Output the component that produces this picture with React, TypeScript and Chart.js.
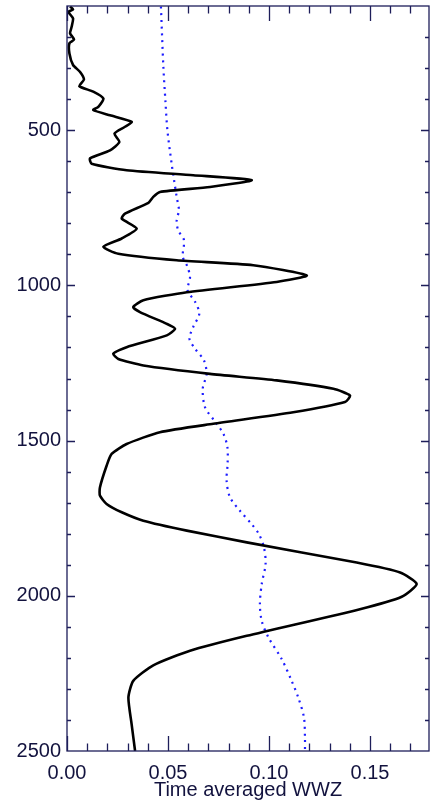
import React, { useEffect, useRef } from "react";
import { Chart, registerables } from "chart.js";

Chart.register(...registerables);

// Solid black series: depth and time averaged WWZ
const blackDepth = [
  102, 111, 119, 140, 167, 188, 208, 220, 253, 290, 312, 337, 358, 376, 398, 425, 435, 452, 473, 489,
  511, 538, 565, 591, 608, 629, 645, 661, 683, 699, 715, 734, 769, 785, 817, 849, 876, 898, 919, 935,
  968, 989, 1022, 1048, 1070, 1086, 1124, 1140, 1161, 1199, 1220, 1237, 1258, 1285, 1306, 1333, 1355,
  1376, 1409, 1446, 1473, 1511, 1543, 1581, 1651, 1677, 1704, 1731, 1758, 1790, 1828, 1893, 1925, 1962,
  2003, 2043, 2129, 2177, 2224, 2274, 2328, 2414, 2500,
];
const blackWWZ = [
  0.0015, 0.003, 0.0007, 0.003, 0.0023, 0.0015, 0.0035, 0.0012, 0.0012, 0.003, 0.0064, 0.0084, 0.0061,
  0.013, 0.018, 0.0155, 0.013, 0.0213, 0.032, 0.0287, 0.0235, 0.0259, 0.0213, 0.0114, 0.0122, 0.0295,
  0.0625, 0.0914, 0.0708, 0.046, 0.0427, 0.0403, 0.0287, 0.0271, 0.0345, 0.0271, 0.018, 0.0254, 0.0543,
  0.0922, 0.1187, 0.1038, 0.0593, 0.0378, 0.0328, 0.0361, 0.0494, 0.0535, 0.0494, 0.0295, 0.0229,
  0.0254, 0.0378, 0.0708, 0.1038, 0.1319, 0.1401, 0.1376, 0.112, 0.0724, 0.046, 0.0295, 0.0221, 0.0196,
  0.0163, 0.0163, 0.0196, 0.0271, 0.0378, 0.0593, 0.089, 0.1434, 0.1649, 0.1731, 0.1657, 0.145, 0.089,
  0.0609, 0.0427, 0.0328, 0.0304, 0.032, 0.0337,
];

// Dotted blue series
const blueDepth = [
  102, 296, 404, 500, 608, 661, 715, 758, 790, 822, 854, 908, 935, 973, 1016, 1053, 1091, 1134, 1172,
  1204, 1242, 1285, 1333, 1392, 1435, 1478, 1521, 1575, 1629, 1683, 1726, 1769, 1801, 1844, 1898, 1962,
  2027, 2081, 2134, 2204, 2274, 2328, 2392, 2457, 2500,
];
const blueWWZ = [
  0.0465, 0.0477, 0.0487, 0.0497, 0.0518, 0.053, 0.0543, 0.0554, 0.0543, 0.055, 0.0579, 0.0573, 0.0593,
  0.0609, 0.0597, 0.0634, 0.0655, 0.0625, 0.0606, 0.0634, 0.0678, 0.0691, 0.0672, 0.0683, 0.0728,
  0.0774, 0.0794, 0.0795, 0.079, 0.0807, 0.0856, 0.0914, 0.095, 0.0975, 0.0983, 0.0964, 0.0955, 0.0964,
  0.0997, 0.1063, 0.1112, 0.1145, 0.1173, 0.1178, 0.1178,
];

const xMin = 0;
const xMax = 0.1792;
const yMin = 100;
const yMax = 2500;
const xTickValues = [0, 0.05, 0.1, 0.15];
const yTickValues = [500, 1000, 1500, 2000, 2500];
const xMajorStep = 0.05;
const xMinorStep = 0.01;
const yMajorStep = 500;
const yMinorStep = 100;
const xTitle = "Time averaged WWZ";

const FONT = '"Liberation Sans", Arial, Helvetica, sans-serif';
const AXIS_COLOR = "#1e1e5a";
const TEXT_COLOR = "#12123e";

const frameTicks = {
  id: "frameTicks",
  afterDatasetsDraw(chart: any) {
    const { ctx, chartArea: a, scales } = chart;
    const xs = scales.x;
    const ys = scales.y;
    ctx.save();
    ctx.strokeStyle = AXIS_COLOR;
    ctx.lineWidth = 1.3;
    ctx.strokeRect(a.left, a.top, a.right - a.left, a.bottom - a.top);
    ctx.beginPath();
    const nX = Math.round((xMax - xMin) / xMinorStep);
    for (let i = 0; i <= nX; i++) {
      const v = xMin + i * xMinorStep;
      if (v > xMax) break;
      const px = Math.round(xs.getPixelForValue(v)) + 0.5;
      const major = i % Math.round(xMajorStep / xMinorStep) === 0;
      const len = major ? 15 : 7.5;
      ctx.moveTo(px, a.bottom);
      ctx.lineTo(px, a.bottom - len);
      ctx.moveTo(px, a.top);
      ctx.lineTo(px, a.top + len);
    }
    const nY = Math.round((yMax - yMin) / yMinorStep);
    for (let i = 1; i < nY; i++) {
      const v = yMin + i * yMinorStep;
      const py = Math.round(ys.getPixelForValue(v)) + 0.5;
      const major = v % yMajorStep === 0;
      const len = major ? 8 : 4;
      ctx.moveTo(a.left, py);
      ctx.lineTo(a.left + len, py);
      ctx.moveTo(a.right, py);
      ctx.lineTo(a.right - len, py);
    }
    ctx.stroke();
    ctx.restore();
  },
};

export default function App() {
  const ref = useRef<HTMLCanvasElement | null>(null);

  useEffect(() => {
    if (!ref.current) return;
    const black = blackDepth.map((d, i) => ({ x: blackWWZ[i], y: d }));
    const blue = blueDepth.map((d, i) => ({ x: blueWWZ[i], y: d }));
    const chart = new Chart(ref.current, {
      type: "scatter",
      data: {
        datasets: [
          {
            data: black,
            showLine: true,
            borderColor: "#000000",
            borderWidth: 2.6,
            pointRadius: 0,
            tension: 0.2,
            borderJoinStyle: "round",
          },
          {
            data: blue,
            showLine: true,
            borderColor: "#1c1cff",
            borderWidth: 2.2,
            borderDash: [2, 4.7],
            pointRadius: 0,
            tension: 0.3,
          },
        ],
      },
      options: {
        responsive: false,
        devicePixelRatio: 1,
        animation: false,
        layout: { padding: { top: 6, right: 3, left: 0, bottom: 0 } },
        plugins: { legend: { display: false }, tooltip: { enabled: false } },
        scales: {
          x: {
            type: "linear",
            position: "bottom",
            min: xMin,
            max: xMax,
            grid: { display: false, drawTicks: false },
            border: { display: false },
            afterBuildTicks: (s: any) => {
              s.ticks = xTickValues.map((v) => ({ value: v }));
            },
            ticks: {
              autoSkip: false,
              maxRotation: 0,
              padding: 10,
              color: TEXT_COLOR,
              font: { family: FONT, size: 20 },
              callback: (v: any) => Number(v).toFixed(2),
            },
            title: {
              display: true,
              text: xTitle,
              color: TEXT_COLOR,
              font: { family: FONT, size: 20 },
              padding: { top: 0, bottom: 5 },
            },
            afterFit: (s: any) => {
              s.height = 56;
              s.paddingLeft = 0;
              s.paddingRight = 0;
            },
          },
          y: {
            type: "linear",
            reverse: true,
            min: yMin,
            max: yMax,
            grid: { display: false, drawTicks: false },
            border: { display: false },
            afterBuildTicks: (s: any) => {
              s.ticks = yTickValues.map((v) => ({ value: v }));
            },
            ticks: {
              autoSkip: false,
              padding: 6,
              color: TEXT_COLOR,
              font: { family: FONT, size: 20 },
              callback: (v: any) => String(v),
            },
            afterFit: (s: any) => {
              s.width = 67;
              s.paddingTop = 0;
              s.paddingBottom = 0;
            },
          },
        },
      },
      plugins: [frameTicks],
    });
    return () => chart.destroy();
  }, []);

  return (
    <div style={{ position: "absolute", left: 0, top: 0, width: 432, height: 807, background: "#fff" }}>
      <canvas ref={ref} width={432} height={807} style={{ display: "block", width: 432, height: 807 }} />
    </div>
  );
}
